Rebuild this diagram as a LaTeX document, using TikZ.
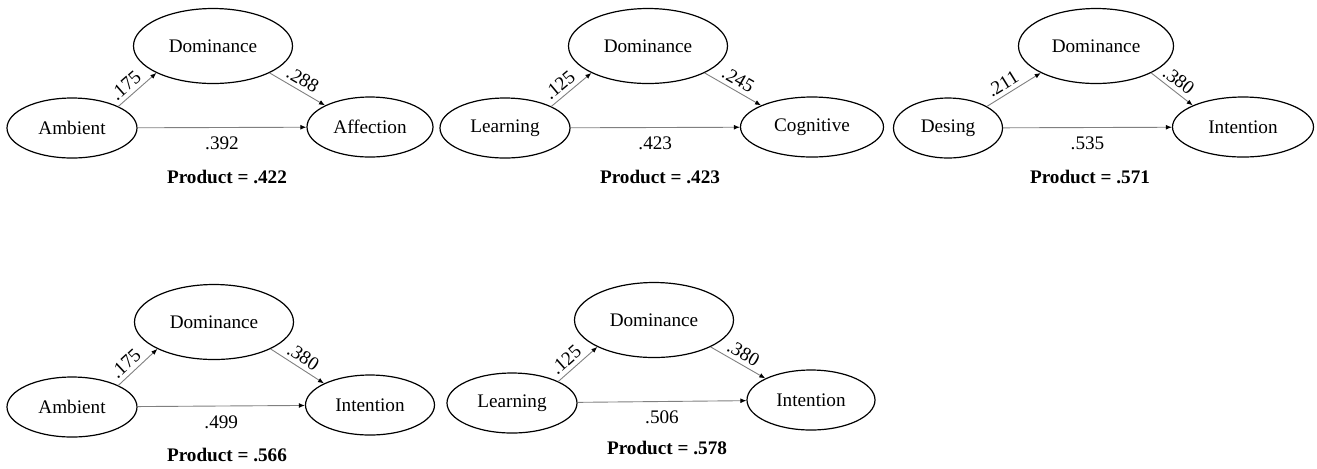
\documentclass[tikz,border=0pt]{standalone}
\usepackage{fontspec}
\setmainfont{Liberation Serif}
\usepackage{tikz}
\usetikzlibrary{shapes.geometric, arrows.meta}

\tikzset{
    var/.style={draw, ellipse, line width=0.6pt, inner sep=0pt, minimum height=30pt},
    dom/.style={var, minimum width=79.5pt, minimum height=37.5pt},
    eff/.style={draw=black!50, line width=0.45pt, -{Latex[black, length=3pt, width=2.4pt]}},
    coef/.style={inner sep=2pt},
    prod/.style={font=\fontsize{9.6}{11.5}\selectfont\bfseries}
}

\begin{document}
\begin{tikzpicture}[x=0.5pt, y=-0.5pt, font=\fontsize{9.6}{11.5}\selectfont]
        \useasboundingbox (0,0) rectangle (1317,468);

        % top row
        \node[dom] (domA) at (213,46) {Dominance};
        \node[var, minimum width=65pt] (ambA) at (72,128) {Ambient};
        \node[var, minimum width=63pt] (affA) at (370,127) {Affection};
        \node[prod] (prodA) at (227,177) {Product = .422};

        \draw[eff] (ambA.north east) to node[coef, sloped, above, pos=.38] {.175} (domA.south west);
        \draw[eff] (domA.south east) to node[coef, sloped, above] {.288} (affA.north west);
        \draw[eff] (ambA) to node[coef, below=2.5pt] {.392} (affA);

        \node[dom] (domB) at (648,46) {Dominance};
        \node[var, minimum width=65pt] (learnB) at (505,128) {Learning};
        \node[var, minimum width=71.5pt] (cogB) at (812,127) {Cognitive};
        \node[prod] (prodB) at (660,177) {Product = .423};

        \draw[eff] (learnB.north east) to node[coef, sloped, above, pos=.38] {.125} (domB.south west);
        \draw[eff] (domB.south east) to node[coef, sloped, above] {.245} (cogB.north west);
        \draw[eff] (learnB) to node[coef, below=2.5pt] {.423} (cogB);

        \node[dom, minimum width=77.5pt] (domC) at (1096,46) {Dominance};
        \node[var, minimum width=54.5pt] (desC) at (948,128) {Desing};
        \node[var, minimum width=70.5pt] (intC) at (1243,127) {Intention};
        \node[prod] (prodC) at (1090,177) {Product = .571};

        \draw[eff] (desC.north east) to node[coef, sloped, above, pos=.4] {.211} (domC.south west);
        \draw[eff] (domC.south east) to node[coef, sloped, above] {.380} (intC.north west);
        \draw[eff] (desC) to node[coef, below=2.5pt] {.535} (intC);

        % bottom row
        \node[dom] (domD) at (214,322) {Dominance};
        \node[var, minimum width=65pt] (ambD) at (72,407) {Ambient};
        \node[var, minimum width=64.5pt] (intD) at (370,405) {Intention};
        \node[prod] (prodD) at (227,455) {Product = .566};

        \draw[eff] (ambD.north east) to node[coef, sloped, above, pos=.38] {.175} (domD.south west);
        \draw[eff] (domD.south east) to node[coef, sloped, above] {.380} (intD.north west);
        \draw[eff] (ambD) to node[coef, below=2.5pt] {.499} (intD);

        \node[dom] (domE) at (654,320) {Dominance};
        \node[var, minimum width=65pt] (learnE) at (512,403) {Learning};
        \node[var, minimum width=64pt] (intE) at (811,400) {Intention};
        \node[prod] (prodE) at (667,448) {Product = .578};

        \draw[eff] (learnE.north east) to node[coef, sloped, above, pos=.38] {.125} (domE.south west);
        \draw[eff] (domE.south east) to node[coef, sloped, above] {.380} (intE.north west);
        \draw[eff] (learnE) to node[coef, below=2.5pt] {.506} (intE);

    \end{tikzpicture}
\end{document}
